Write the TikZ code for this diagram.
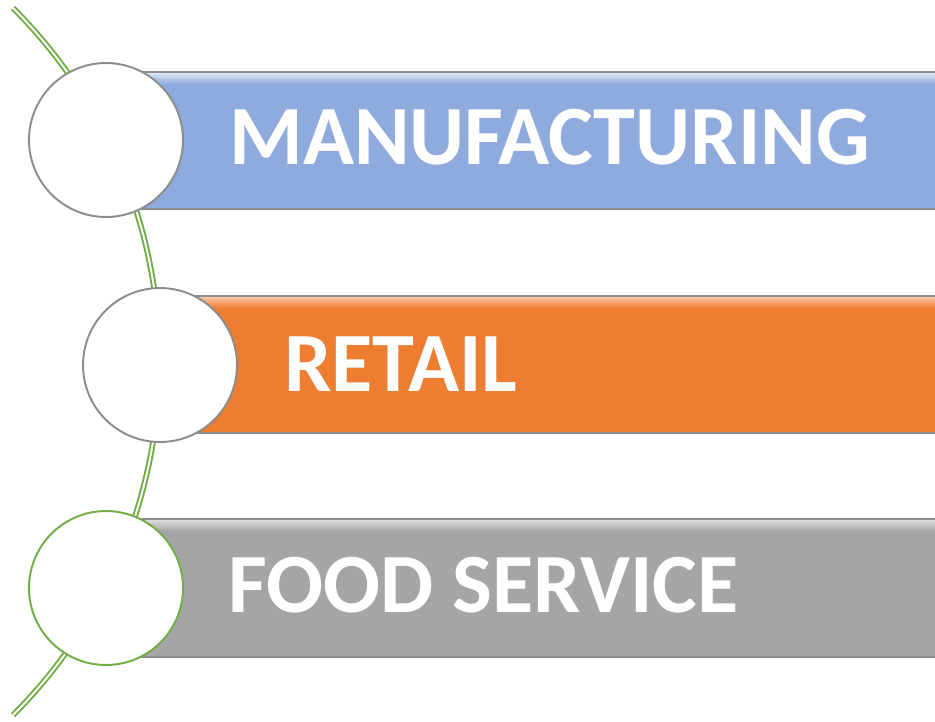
\documentclass[tikz,border=0pt]{standalone}
\usepackage{fontspec}
\setmainfont{Carlito}
\definecolor{barblue}{HTML}{8FAADC}
\definecolor{barorange}{HTML}{ED7D31}
\definecolor{bargray}{HTML}{A5A5A5}
\definecolor{rimgray}{HTML}{8C8C8C}
\definecolor{leafgreen}{HTML}{70AD47}
\tikzset{
  bar/.style={draw=rimgray, line width=1.2pt},
  disc/.style={circle, draw=rimgray, fill=white, line width=1.1pt,
    minimum size=3.08cm, inner sep=0pt},
  barlabel/.style={anchor=base west, text=white, inner sep=0pt,
    font=\fontsize{48}{48}\selectfont\bfseries},
  vine/.style={draw=leafgreen, line width=1.1pt, double=white,
    double distance=1.1pt}
}
\begin{document}
\begin{tikzpicture}[x=0.02cm,y=-0.02cm]
  \useasboundingbox (0,0) rectangle (935,721);
  % green curve behind everything
  \draw[vine] (13,8) arc[start angle=-45, end angle=45, radius=500];
  % bars
  \draw[bar, fill=barblue] (140,72) rectangle (940,209);
  \shade[top color=white!70!barblue, bottom color=barblue] (141,73) rectangle (938,84);
  \draw[bar, fill=barorange] (140,296) rectangle (940,433);
  \shade[top color=white!55!barorange, bottom color=barorange] (141,297) rectangle (938,308);
  \draw[bar, fill=bargray] (140,519) rectangle (940,657);
  \shade[top color=white!60!bargray, bottom color=bargray] (141,520) rectangle (938,531);
  % circles
  \node[disc] (manufdisc) at (106,140) {};
  \node[disc] (retaildisc) at (160,365) {};
  \node[disc, draw=leafgreen] (fooddisc) at (106,588) {};
  % labels
  \node[barlabel] (manuf) at (229,164) {MANUFACTURING};
  \node[barlabel] (retail) at (284,391) {RETAIL};
  \node[barlabel] (food) at (228,612) {FOOD SERVICE};
\end{tikzpicture}
\end{document}
